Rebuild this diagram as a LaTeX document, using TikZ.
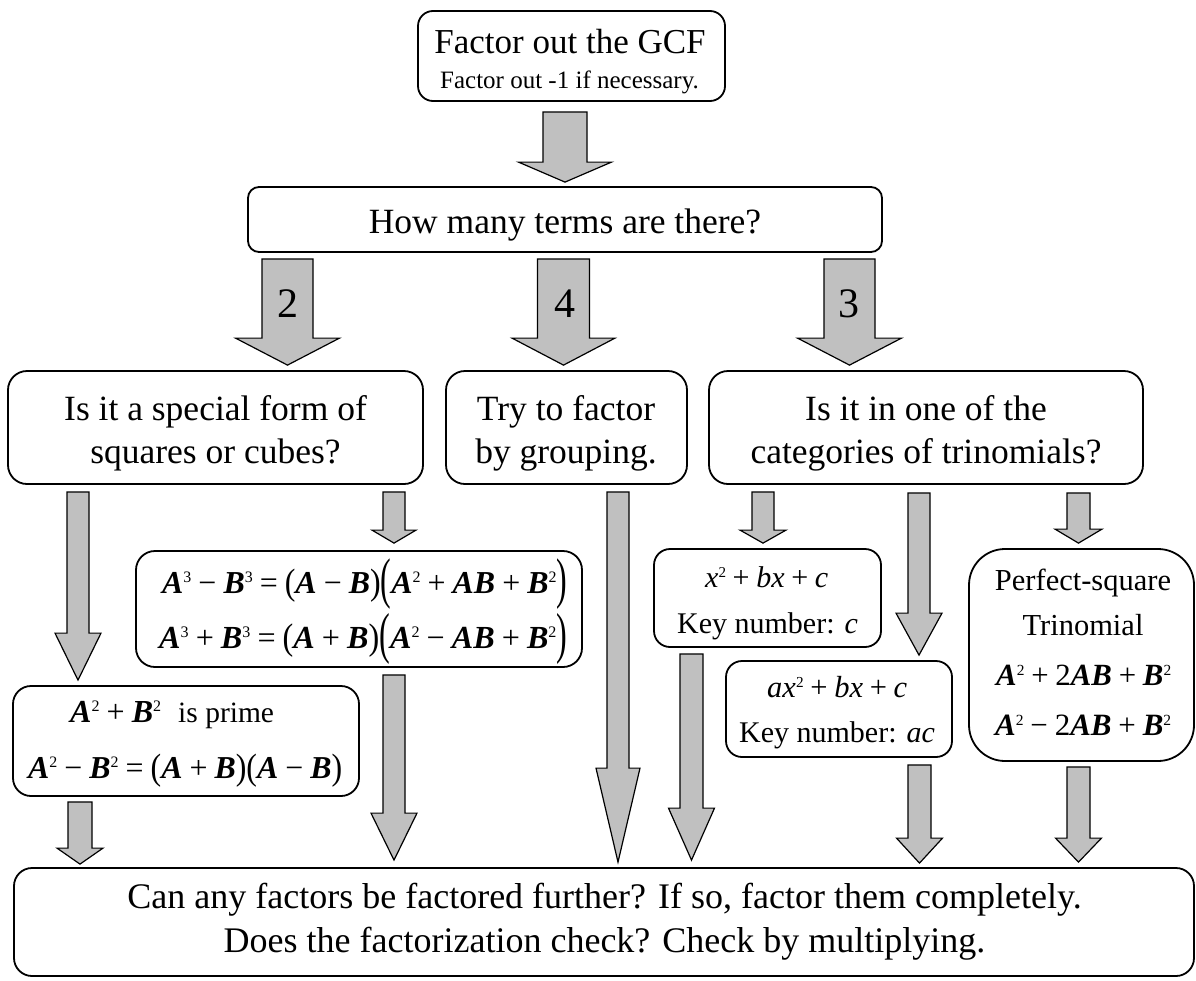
\documentclass[tikz,border=0pt]{standalone}
\usepackage{fontspec}
\setmainfont{Liberation Serif}
\usepackage{graphicx}
\usetikzlibrary{calc}
\definecolor{arrgray}{RGB}{192,192,192}
\newcommand\fsz[1]{\fontsize{#1}{#1}\selectfont}
\newcommand\fA{\textbf{\textit{A}}}
\newcommand\fB{\textbf{\textit{B}}}
\newcommand\fsup[1]{\raisebox{9pt}{\fontsize{14}{14}\selectfont #1}}
\newcommand\fop[1]{\hspace{0.22em}#1\hspace{0.22em}}
\newcommand\fminus{\fop{\char"2212}}
\newcommand\fplus{\fop{+}}
\newcommand\feq{\fop{=}}
\newcommand\BLp{\raisebox{-4pt}{\scalebox{1}[1.75]{(}}}
\newcommand\BRp{\raisebox{-4pt}{\scalebox{1}[1.75]{)}}}
\newcommand\MLp{\raisebox{-1.5pt}{\scalebox{1}[1.15]{(}}}
\newcommand\MRp{\raisebox{-1.5pt}{\scalebox{1}[1.15]{)}}}
\newcommand\fml[2]{\resizebox{#1pt}{!}{\fsz{28}#2}}
% block arrow: #1 x, #2 source node, #3 target node, #4 top gap, #5 tip gap,
% #6 shaft half width, #7 head half width, #8 head length
\newcommand\barrowx[8]{%
  \draw[blockarr] let \p1=(#2.south), \p2=(#3.north) in
    ({(#1-#6)*1pt},{\y1-#4pt}) -- ({(#1+#6)*1pt},{\y1-#4pt})
    -- ({(#1+#6)*1pt},{\y2+#5pt+#8pt}) -- ({(#1+#7)*1pt},{\y2+#5pt+#8pt})
    -- ({#1*1pt},{\y2+#5pt})
    -- ({(#1-#7)*1pt},{\y2+#5pt+#8pt}) -- ({(#1-#6)*1pt},{\y2+#5pt+#8pt}) -- cycle;}
\begin{document}
\begin{tikzpicture}[x=1pt,y=-1pt,
  box/.style={draw=black, line width=1.8pt, fill=white, inner sep=0pt},
  blockarr/.style={draw=black, line width=1.2pt, fill=arrgray, line join=miter},
  txt/.style={inner sep=0pt, anchor=base}]
\useasboundingbox (0,0) rectangle (1196,980);

% boxes
\node[box, rounded corners=15pt, minimum width=307pt, minimum height=90pt] (gcf) at (571.5,56) {};
\node[box, rounded corners=11pt, minimum width=634pt, minimum height=65pt] (terms) at (565,219.5) {};
\node[box, rounded corners=19pt, minimum width=415pt, minimum height=113pt] (special) at (215.5,427.5) {};
\node[box, rounded corners=19pt, minimum width=241pt, minimum height=113pt] (group) at (566.5,427.5) {};
\node[box, rounded corners=19pt, minimum width=434pt, minimum height=113pt] (trin) at (926,427.5) {};
\node[box, rounded corners=19pt, minimum width=446pt, minimum height=116pt] (cubes) at (359,609) {};
\node[box, rounded corners=18pt, minimum width=346pt, minimum height=110pt] (squares) at (186,741) {};
\node[box, rounded corners=16pt, minimum width=227pt, minimum height=98pt] (simple) at (767.5,598) {};
\node[box, rounded corners=16pt, minimum width=226pt, minimum height=96pt] (general) at (839,709) {};
\node[box, rounded corners=36pt, minimum width=225pt, minimum height=212pt] (perfect) at (1081.5,655) {};
\node[box, rounded corners=18pt, minimum width=1180pt, minimum height=108pt] (final) at (604,922) {};

% block arrows
\barrowx{565}{gcf}{terms}{10}{4}{22}{46.5}{20}
\barrowx{287.5}{terms}{special}{6}{5}{25.5}{52}{27}
\barrowx{563.5}{terms}{group}{6}{5}{26}{51.5}{27}
\barrowx{849.5}{terms}{trin}{6}{5}{25.5}{52}{27}
\barrowx{78}{special}{squares}{7}{5}{11}{23}{47}
\barrowx{394}{special}{cubes}{7}{7}{11}{22}{13}
\barrowx{618}{group}{final}{7}{5}{11}{22}{94}
\barrowx{763}{trin}{simple}{7}{5}{11}{23}{13}
\barrowx{919}{trin}{general}{8}{5}{11}{23}{42}
\barrowx{1078.5}{trin}{perfect}{8}{5}{11.5}{23.5}{14}
\barrowx{394}{cubes}{final}{7}{7}{11}{23}{47}
\barrowx{691.5}{simple}{final}{6}{7}{11.5}{23}{52}
\barrowx{919.5}{general}{final}{7}{4}{11.5}{23}{25}
\barrowx{1078.5}{perfect}{final}{5}{5}{11.5}{23}{24}
\barrowx{80}{squares}{final}{5}{3}{12}{23}{16}

% texts
\node[txt, font=\fsz{35}] (gcfa) at (570,53) {Factor out the GCF};
\node[txt, font=\fsz{25}] (gcfb) at (569.5,88) {Factor out -1 if necessary.};
\node[txt, font=\fsz{35.5}] (termsa) at (565,233) {How many terms are there?};
\node[txt, font=\fsz{42}] (n2) at (288,317) {2};
\node[txt, font=\fsz{42}] (n4) at (565,317) {4};
\node[txt, font=\fsz{42}] (n3) at (849,317) {3};

\node[txt, font=\fsz{35.5}] (speciala) at (215.5,420) {Is it a special form of};
\node[txt, font=\fsz{35.5}] (specialb) at (215.5,463) {squares or cubes?};
\node[txt, font=\fsz{35.5}] (groupa) at (566,420) {Try to factor};
\node[txt, font=\fsz{35.5}] (groupb) at (566,463) {by grouping.};
\node[txt, font=\fsz{35.5}] (trina) at (926,420) {Is it in one of the};
\node[txt, font=\fsz{35.5}] (trinb) at (926,463) {categories of trinomials?};

\node[txt, anchor=base west] (cubea) at (162,593)
  {\fml{405}{\fA\fsup{3}\fminus\fB\fsup{3}\feq\MLp\fA\fminus\fB\MRp\BLp\fA\fsup{2}\fplus\fA\fB\fplus\fB\fsup{2}\BRp}};
\node[txt, anchor=base west] (cubeb) at (159,648)
  {\fml{408}{\fA\fsup{3}\fplus\fB\fsup{3}\feq\MLp\fA\fplus\fB\MRp\BLp\fA\fsup{2}\fminus\fA\fB\fplus\fB\fsup{2}\BRp}};

\node[txt, anchor=base west] (sqa) at (70,722) {\fml{91}{\fA\fsup{2}\fplus\fB\fsup{2}}};
\node[txt, anchor=base west, font=\fsz{29.5}] (sqb) at (178,722) {is prime};
\node[txt, anchor=base west] (sqc) at (28,778)
  {\fml{314}{\fA\fsup{2}\fminus\fB\fsup{2}\feq\MLp\fA\fplus\fB\MRp\MLp\fA\fminus\fB\MRp}};

\node[txt, anchor=base west] (simplea) at (705,587)
  {\fml{123}{\textit{x}\fsup{2}\fplus\textit{bx}\fplus\textit{c}}};
\node[txt, font=\fsz{30}] (simpleb) at (767.5,633) {Key number: \textit{c}};
\node[txt, anchor=base west] (generala) at (767,697)
  {\fml{140}{\textit{ax}\fsup{2}\fplus\textit{bx}\fplus\textit{c}}};
\node[txt, font=\fsz{30}] (generalb) at (837,742) {Key number: \textit{ac}};

\node[txt, font=\fsz{30.5}] (perfa) at (1083,590) {Perfect-square};
\node[txt, font=\fsz{30.5}] (perfb) at (1083,635) {Trinomial};
\node[txt, anchor=base west] (perfc) at (996,685)
  {\fml{175}{\fA\fsup{2}\fplus 2\fA\fB\fplus\fB\fsup{2}}};
\node[txt, anchor=base west] (perfd) at (995,735)
  {\fml{176}{\fA\fsup{2}\fminus 2\fA\fB\fplus\fB\fsup{2}}};

\node[txt, font=\fsz{36}] (finala) at (604.5,908) {Can any factors be factored further? If so, factor them completely.};
\node[txt, font=\fsz{36}] (finalb) at (604.5,952) {Does the factorization check? Check by multiplying.};
\end{tikzpicture}
\end{document}
